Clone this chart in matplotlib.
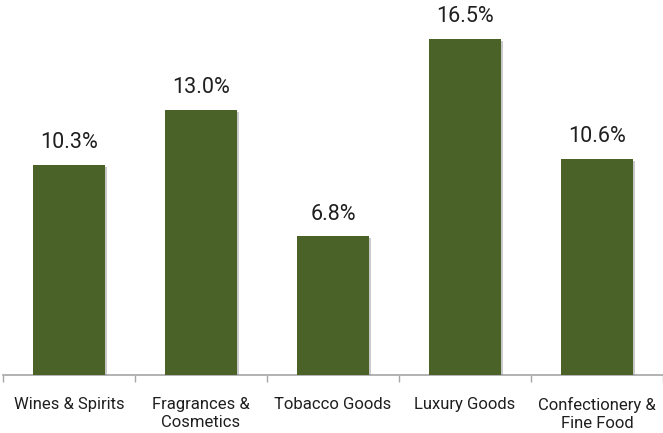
import matplotlib
matplotlib.use("Agg")
import matplotlib.pyplot as plt
import matplotlib.patheffects as pe
import numpy as np

categories = ["Wines & Spirits", "Fragrances &\nCosmetics", "Tobacco Goods", "Luxury Goods", "Confectionery &\nFine Food"]
values = [10.3, 13.0, 6.8, 16.5, 10.6]
value_labels = ["10.3%", "13.0%", "6.8%", "16.5%", "10.6%"]

plt.rcParams['font.family'] = ['Roboto', 'DejaVu Sans']
fig = plt.figure(figsize=(6.63, 4.33), dpi=100)
ax = fig.add_axes([3/663, 1 - 375/433, 660/663, 367/433])

x = np.arange(len(categories))
bars = ax.bar(x, values, width=0.55, color='#4A6127', zorder=3,
              path_effects=[pe.SimplePatchShadow(offset=(1.5, -1.5), shadow_rgbFace='#888888', alpha=0.45), pe.Normal()])

for xi, v, lab in zip(x, values, value_labels):
    ax.annotate(lab, (xi, v), xytext=(0, 8.5), textcoords='offset points', ha='center', va='bottom',
                fontsize=15.5, color='#1F1F1F')

ax.set_xlim(-0.5, len(categories) - 0.5)
ax.set_ylim(0, 18)
for s in ['top', 'right', 'left']:
    ax.spines[s].set_visible(False)
ax.spines['bottom'].set_color('#A6A6A6')
ax.spines['bottom'].set_linewidth(1.2)
ax.set_yticks([])
ax.set_xticks(x)
ax.set_xticklabels(categories, fontsize=12, color='#1F1F1F', linespacing=1.2)
ax.tick_params(axis='x', which='major', length=0, pad=16)
ax.set_xticks(np.arange(-0.5, len(categories), 1), minor=True)
ax.tick_params(axis='x', which='minor', length=5, color='#A6A6A6', width=1)

fig.savefig("out.png", dpi=100)
